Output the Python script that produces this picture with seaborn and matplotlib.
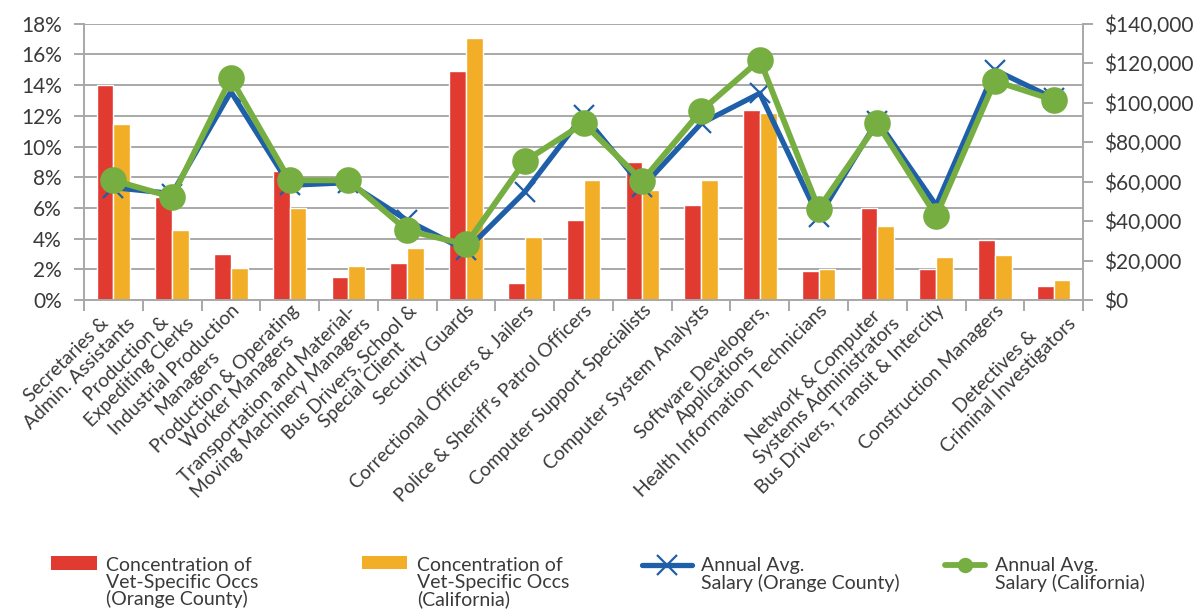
import numpy as np
import pandas as pd
import matplotlib
matplotlib.use("Agg")
import matplotlib.pyplot as plt
import seaborn as sns
from matplotlib.ticker import FuncFormatter, FixedLocator
from matplotlib.patches import Patch
from matplotlib.lines import Line2D
from matplotlib.legend_handler import HandlerPatch, HandlerLine2D
from matplotlib.transforms import ScaledTranslation

# ---- data -------------------------------------------------------------
occupations = [
    "Secretaries &\nAdmin. Assistants",
    "Production &\nExpediting Clerks",
    "Industrial Production\nManagers",
    "Production & Operating\nWorker Managers",
    "Transportation and Material-\nMoving Machinery Managers",
    "Bus Drivers, School &\nSpecial Client",
    "Security Guards",
    "Correctional Officers & Jailers",
    "Police & Sheriff\u2019s Patrol Officers",
    "Computer Support Specialists",
    "Computer System Analysts",
    "Software Developers,\nApplications",
    "Health Information Technicians",
    "Network & Computer\nSystems Administrators",
    "Bus Drivers, Transit & Intercity",
    "Construction Managers",
    "Detectives &\nCriminal Investigators",
]
conc_oc = [14.0, 6.7, 3.0, 8.4, 1.5, 2.4, 14.9, 1.1, 5.2, 9.0, 6.2, 12.4, 1.9, 6.0, 2.0, 3.9, 0.9]
conc_ca = [11.5, 4.6, 2.1, 6.0, 2.2, 3.4, 17.1, 4.1, 7.8, 7.2, 7.8, 12.2, 2.0, 4.8, 2.8, 2.95, 1.3]
salary_oc = [57000, 54000, 105600, 58200, 59500, 40400, 25200, 54800, 93700, 57300,
             89500, 104800, 42000, 91000, 48000, 116600, 102200]
salary_ca = [60700, 52200, 112400, 60700, 60700, 35300, 28200, 70400, 89500, 60500,
             95900, 121700, 46300, 89500, 42600, 111000, 101400]

series_labels = [
    "Concentration of\nVet-Specific Occs\n(Orange County)",
    "Concentration of\nVet-Specific Occs\n(California)",
    "Annual Avg.\nSalary (Orange County)",
    "Annual Avg.\nSalary (California)",
]

RED = "#E03A31"
ORANGE = "#F2AE27"
BLUE = "#1F5EA8"
GREEN = "#77AE41"
GRID = "#A8A8A8"
TEXT = "#3A3A3A"

# ---- styling ----------------------------------------------------------
sns.set_theme(style="white")
plt.rcParams["font.family"] = ["Lato", "DejaVu Sans"]
plt.rcParams["text.color"] = TEXT
plt.rcParams["xtick.color"] = TEXT
plt.rcParams["ytick.color"] = TEXT

fig = plt.figure(figsize=(11.98, 6.10), dpi=100)
ax = fig.add_axes([0.0701, 0.508, 0.834, 0.453])

bars = pd.DataFrame({
    "occupation": occupations * 2,
    "concentration": conc_oc + conc_ca,
    "series": [series_labels[0]] * len(occupations) + [series_labels[1]] * len(occupations),
})
sns.barplot(data=bars, x="occupation", y="concentration", hue="series",
            palette=[RED, ORANGE], saturation=1, width=0.57, gap=0,
            legend=False, ax=ax, order=occupations)

ax.set_ylim(0, 18)
ax.yaxis.set_major_locator(FixedLocator(np.arange(0, 19, 2)))
ax.yaxis.set_major_formatter(FuncFormatter(lambda v, p: f"{v:.0f}%"))
ax.set_axisbelow(True)
ax.grid(axis="y", color=GRID, linewidth=1.4)
ax.set_xlabel("")
ax.set_ylabel("")

# salary lines on the secondary axis
ax2 = ax.twinx()
sns.pointplot(x=occupations, y=salary_oc, color=BLUE, markers="x", errorbar=None,
              ax=ax2, linewidth=3.8, markersize=15, markeredgewidth=1.6, order=occupations)
sns.pointplot(x=occupations, y=salary_ca, color=GREEN, markers="o", errorbar=None,
              ax=ax2, linewidth=4.2, markersize=16, order=occupations)
ax2.set_ylim(0, 140000)
ax2.yaxis.set_major_locator(FixedLocator(np.arange(0, 140001, 20000)))
ax2.yaxis.set_major_formatter(FuncFormatter(lambda v, p: f"${v:,.0f}"))
ax2.set_ylabel("")
ax2.grid(False)
ax.set_xlim(-0.5, len(occupations) - 0.5)

# category labels and boundary ticks
ax.set_xticks(range(len(occupations)))
ax.set_xticklabels(occupations, rotation=45, ha="right", va="top",
                   rotation_mode="anchor", multialignment="center", fontsize=13.8)
shift = ScaledTranslation(12 / 100, 0, fig.dpi_scale_trans)
for lab in ax.get_xticklabels():
    lab.set_transform(lab.get_transform() + shift)
    lab.set_linespacing(1.12)
ax.xaxis.set_minor_locator(FixedLocator(np.arange(-0.5, len(occupations), 1.0)))
ax.tick_params(axis="x", which="major", length=0, pad=1)
ax.tick_params(axis="x", which="minor", length=8, width=1.4, color=GRID, bottom=True)
ax.tick_params(axis="y", which="major", length=7, width=1.4, color=GRID, labelsize=15, pad=9, left=True)
ax2.tick_params(axis="y", which="major", length=7, width=1.4, color=GRID, labelsize=15, pad=8, right=True)

for a in (ax, ax2):
    for s in a.spines.values():
        s.set_visible(False)
ax.spines["left"].set_visible(True)
ax.spines["bottom"].set_visible(True)
ax2.spines["right"].set_visible(True)
for s in (ax.spines["left"], ax.spines["bottom"], ax2.spines["right"]):
    s.set_color(GRID)
    s.set_linewidth(1.4)


# legend handles sit level with the first line of their label
class RaisedPatch(HandlerPatch):
    def __init__(self, lift, **kw):
        super().__init__(**kw)
        self.lift = lift

    def create_artists(self, legend, orig_handle, xdescent, ydescent, width, height, fontsize, trans):
        return super().create_artists(legend, orig_handle, xdescent, ydescent - self.lift,
                                      width, height, fontsize, trans)


class RaisedLine(HandlerLine2D):
    def __init__(self, lift, **kw):
        super().__init__(**kw)
        self.lift = lift

    def create_artists(self, legend, orig_handle, xdescent, ydescent, width, height, fontsize, trans):
        return super().create_artists(legend, orig_handle, xdescent, ydescent - 2 * self.lift,
                                      width, height, fontsize, trans)


LEG_FS = 14
handles = [
    Patch(facecolor=RED, edgecolor="none"),
    Patch(facecolor=ORANGE, edgecolor="none"),
    Line2D([], [], color=BLUE, linewidth=3.8, marker="x", markersize=15, markeredgewidth=1.6),
    Line2D([], [], color=GREEN, linewidth=4.2, marker="o", markersize=10),
]
handlers = [RaisedPatch(14.5), RaisedPatch(14.5), RaisedLine(7.2), RaisedLine(7.2)]
lengths = [2.35, 2.35, 2.55, 2.05]
xs = [0.0426, 0.302, 0.536, 0.789]
for h, hd, ln, lab, x0 in zip(handles, handlers, lengths, series_labels, xs):
    leg = fig.legend(handles=[h], labels=[lab], loc="upper left", bbox_to_anchor=(x0, 0.087),
                     frameon=False, handlelength=ln, handletextpad=0.5, borderpad=0,
                     borderaxespad=0, fontsize=LEG_FS, handler_map={type(h): hd})
    for t in leg.get_texts():
        t.set_linespacing(0.98)

fig.savefig("out.png", dpi=100)
